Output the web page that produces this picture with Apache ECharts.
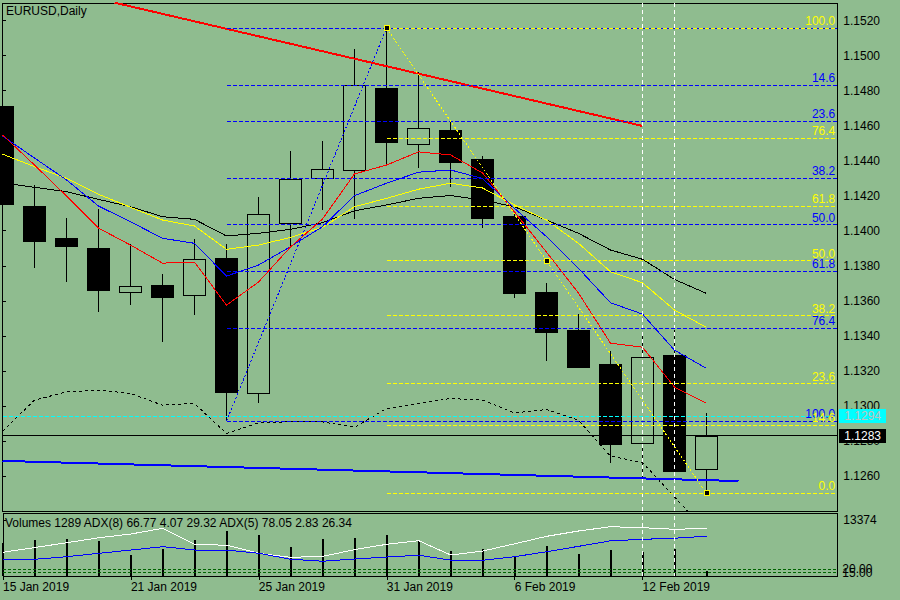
<!DOCTYPE html>
<html>
<head>
<meta charset="utf-8">
<title>EURUSD,Daily</title>
<script src="https://cdn.jsdelivr.net/npm/echarts@6/dist/echarts.min.js"></script>
<style>
html, body {margin:0; padding:0; background:#8fbc8f;}
#main {width:900px; height:600px;}
/* MT4 draws without antialiasing */
#main svg path, #main svg rect, #main svg line, #main svg polyline {shape-rendering: crispEdges;}
</style>
</head>
<body>
<div id="main"></div>
<script>
// daily bars, 15 Jan - 14 Feb 2019
var dates = ['15 Jan 2019','16 Jan 2019','17 Jan 2019','18 Jan 2019','21 Jan 2019','22 Jan 2019','23 Jan 2019',
    '24 Jan 2019','25 Jan 2019','28 Jan 2019','29 Jan 2019','30 Jan 2019','31 Jan 2019','1 Feb 2019',
    '4 Feb 2019','5 Feb 2019','6 Feb 2019','7 Feb 2019','8 Feb 2019','11 Feb 2019','12 Feb 2019',
    '13 Feb 2019','14 Feb 2019'];
var opens  = [1.14709,1.14141,1.13953,1.13901,1.13648,1.13690,1.13631,1.13844,1.13071,1.14042,1.14299,1.14343,
    1.14814,1.14494,1.14575,1.14404,1.14084,1.13650,1.13433,1.13238,1.12785,1.13290,1.12637];
var closes = [1.14149,1.13937,1.13909,1.13657,1.13682,1.13617,1.13833,1.13074,1.14094,1.14294,1.14351,1.14827,
    1.14503,1.14585,1.14389,1.14069,1.13640,1.13417,1.13217,1.12779,1.13277,1.12623,1.12825];
var lows   = [1.14149,1.13789,1.13709,1.13537,1.13577,1.13366,1.13520,1.12913,1.13017,1.13909,1.14118,1.14067,
    1.14375,1.14360,1.14251,1.14017,1.13617,1.13257,1.13215,1.12674,1.12585,1.12620,1.12501];
var highs  = [1.14709,1.14261,1.14073,1.14124,1.13924,1.13753,1.13953,1.13924,1.14191,1.14455,1.14513,1.15038,
    1.15157,1.14905,1.14627,1.14427,1.14101,1.13701,1.13522,1.13313,1.13411,1.13433,1.12957];

// moving averages
var maRed    = [1.14547,1.14375,1.14198,1.14015,1.13918,1.13815,1.13821,1.13575,1.13707,1.13907,1.14067,1.14324,
    1.14375,1.14450,1.14433,1.14330,1.14107,1.13878,1.13644,1.13358,1.13335,1.13107,1.13015];
var maBlue   = [1.14541,1.14415,1.14290,1.14141,1.14051,1.13957,1.13928,1.13741,1.13804,1.13909,1.14023,1.14200,
    1.14271,1.14334,1.14347,1.14298,1.14128,1.13966,1.13785,1.13589,1.13524,1.13318,1.13214];
var maYellow = [1.14437,1.14366,1.14299,1.14208,1.14134,1.14061,1.14027,1.13894,1.13918,1.13962,1.14019,1.14137,
    1.14185,1.14237,1.14271,1.14244,1.14147,1.14061,1.13928,1.13766,1.13703,1.13547,1.13448];
var maBlack  = [1.14273,1.14248,1.14223,1.14179,1.14137,1.14080,1.14065,1.13970,1.13985,1.14008,1.14046,1.14114,
    1.14147,1.14185,1.14201,1.14175,1.14137,1.14061,1.13985,1.13890,1.13837,1.13722,1.13642];
// lower envelope (black dotted)
var envLow   = [1.12855,1.13033,1.13080,1.13090,1.13071,1.13004,1.13014,1.12842,1.12903,1.12909,1.12909,1.12878,
    1.12985,1.13014,1.13042,1.13033,1.12960,1.12979,1.12918,1.12713,1.12677,1.12480,1.12284];

// volumes + ADX window
var volumes  = [7900,8597,8955,8430,5015,6567,8600,10794,9791,6973,8836,9027,9791,8286,6042,6400,4609,7164,
    5254,6209,5803,6376,1289];
var adxWhite = [43.9,50.7,57.6,64.6,70.0,78.1,55.3,53.9,42.4,36.7,38.1,47.7,55.3,60.4,40.0,45.7,56.0,66.7,
    74.3,80.4,79.0,76.7,78.05];
var adxBlue  = [33.9,33.9,37.6,42.4,47.1,51.9,47.1,47.1,42.4,33.9,31.1,34.3,37.1,39.7,32.6,32.4,37.6,44.7,
    52.4,60.3,62.4,64.0,66.77];
var adxLevels = [20, 15];

// drawn objects
var redTrend  = [[3.5, 1.15302], [20, 1.14598]];
var blueTrend = [[0, 1.12686], [23, 1.12571]];
var fibBlue   = [[7, 1.12913], [12, 1.15157]];   // low -> high
var fibYellow = [[12, 1.15157], [22, 1.12501]];  // high -> low
var fibYellowMid = [17, 1.13829];
var fibRatios = [0, 14.6, 23.6, 38.2, 50.0, 61.8, 76.4, 100.0];
var vLines = [20, 21];
var bidPrice = 1.1294;
var lastPrice = 1.1283;

// axis labels
var priceTicks = [1.1260,1.1280,1.1300,1.1320,1.1340,1.1360,1.1380,1.1400,1.1420,1.1440,1.1460,1.1480,1.1500,1.1520];
var dateTicks = [0, 4, 8, 12, 16, 20];
var volTicks = [13374];

var BG = '#8fbc8f';
var XMAX = 26.0875;
var FONT = 'Liberation Sans';

function pairs(arr) {
    var out = [];
    for (var i = 0; i < arr.length; i++) out.push([i, arr[i]]);
    return out;
}

var candles = [];
for (var i = 0; i < dates.length; i++) {
    candles.push([i, opens[i], closes[i], lows[i], highs[i]]);
}

// fib levels
function fibLines(anchor, color, startIdx, fromHigh) {
    var lo = Math.min(anchor[0][1], anchor[1][1]);
    var hi = Math.max(anchor[0][1], anchor[1][1]);
    var res = [];
    fibRatios.forEach(function (r) {
        var p = fromHigh ? hi - r / 100 * (hi - lo) : lo + r / 100 * (hi - lo);
        var showLabel = !(fromHigh && r === 0);
        res.push([
            {coord: [startIdx, p], label: {show: showLabel, formatter: r.toFixed(1)}},
            {coord: [XMAX, p]}
        ]);
    });
    return {
        silent: true,
        precision: 6,
        symbol: ['none', 'none'],
        lineStyle: {color: color, type: [4, 2], width: 1},
        label: {position: 'insideEndTop', color: color, fontSize: 12, fontFamily: FONT, distance: [2, 1]},
        data: res
    };
}

function maLine(name, arr, color) {
    return {
        name: name, type: 'line', data: pairs(arr), showSymbol: false, symbol: 'none',
        lineStyle: {color: color, width: 1}, z: 3, silent: true
    };
}

var myChart = echarts.init(document.getElementById('main'), null, {renderer: 'svg'});
var option = {
    animation: false,
    backgroundColor: BG,
    textStyle: {fontFamily: FONT},
    title: [
        {text: 'EURUSD,Daily', left: 6, top: 5, padding: 0,
            textStyle: {fontSize: 12, fontWeight: 'normal', color: '#000', fontFamily: FONT}},
        {text: 'Volumes 1289 ADX(8) 66.77 4.07 29.32 ADX(5) 78.05 2.83 26.34', left: 5, top: 517, padding: 0,
            textStyle: {fontSize: 12, fontWeight: 'normal', color: '#000', fontFamily: FONT}}
    ],
    grid: [
        {left: 2.5, right: 62.7, top: 3, height: 508, show: true, borderColor: '#000', borderWidth: 1},
        {left: 2.5, right: 62.7, top: 513, height: 63, show: true, borderColor: '#000', borderWidth: 1}
    ],
    xAxis: [
        {type: 'value', gridIndex: 0, min: 0, max: XMAX, show: false, splitLine: {show: false}},
        {type: 'value', gridIndex: 1, min: 0, max: XMAX,
            axisLine: {show: true, lineStyle: {color: '#000'}},
            axisTick: {show: true, length: 4, customValues: dateTicks, lineStyle: {color: '#000'}},
            axisLabel: {customValues: dateTicks, align: 'left', margin: 5, fontSize: 12, color: '#000',
                fontFamily: FONT,
                formatter: function (v) { return dates[Math.round(v)] || ''; }},
            splitLine: {show: false}}
    ],
    yAxis: [
        {type: 'value', gridIndex: 0, position: 'right', min: 1.1240, max: 1.1530, scale: true,
            axisLine: {show: true, lineStyle: {color: '#000'}},
            axisTick: {show: true, length: 3, customValues: priceTicks, lineStyle: {color: '#000'}},
            axisLabel: {customValues: priceTicks, margin: 6, fontSize: 12, color: '#000', fontFamily: FONT,
                formatter: function (v) { return v.toFixed(4); }},
            splitLine: {show: false}},
        {type: 'value', gridIndex: 1, position: 'right', min: 0, max: 15046,
            axisLine: {show: true, lineStyle: {color: '#000'}},
            axisTick: {show: true, length: 3, customValues: volTicks, lineStyle: {color: '#000'}},
            axisLabel: {customValues: volTicks, margin: 6, fontSize: 12, color: '#000', fontFamily: FONT,
                formatter: function (v) { return String(v); }},
            splitLine: {show: false}},
        {type: 'value', gridIndex: 1, position: 'right', min: 10, max: 100, show: false, splitLine: {show: false}}
    ],
    series: [
        {
            name: 'EURUSD', type: 'candlestick', data: candles, encode: {x: 0, y: [1, 2, 3, 4]},
            barWidth: 22, z: 1, silent: true,
            itemStyle: {color: BG, color0: '#000', borderColor: '#000', borderColor0: '#000', borderWidth: 1}
        },
        maLine('MA black', maBlack, '#000'),
        maLine('MA yellow', maYellow, '#ffff00'),
        maLine('MA blue', maBlue, '#0000ff'),
        maLine('MA red', maRed, '#ff0000'),
        {
            name: 'Envelope', type: 'line', data: pairs(envLow), symbol: 'none', silent: true, z: 3,
            lineStyle: {color: '#000', width: 1, type: [3, 3]}
        },
        {
            name: 'Red trend', type: 'line', data: redTrend, symbol: 'none', silent: true, z: 4,
            lineStyle: {color: '#ff0000', width: 2}
        },
        {
            name: 'Blue trend', type: 'line', data: blueTrend, symbol: 'none', silent: true, z: 4,
            lineStyle: {color: '#0000ff', width: 2},
            markLine: {
                silent: true, precision: 6, symbol: ['none', 'none'],
                data: [
                    {xAxis: vLines[0], lineStyle: {color: '#fff', type: [4, 3], width: 1}, label: {show: false}},
                    {xAxis: vLines[1], lineStyle: {color: '#fff', type: [4, 3], width: 1}, label: {show: false}},
                    {yAxis: bidPrice, lineStyle: {color: '#00ffff', type: [4, 2], width: 1},
                        label: {show: true, position: 'end', distance: 2, formatter: '1.1294', fontSize: 12,
                            fontFamily: FONT, color: '#c0c0c0', backgroundColor: '#00ffff',
                            padding: [1, 5, 1, 5], lineHeight: 12}},
                    {yAxis: lastPrice, lineStyle: {color: '#000', type: 'solid', width: 1},
                        label: {show: true, position: 'end', distance: 2, formatter: '1.1283', fontSize: 12,
                            fontFamily: FONT, color: '#fff', backgroundColor: '#000',
                            padding: [1, 5, 1, 5], lineHeight: 12}}
                ]
            }
        },
        {
            name: 'Fibo blue', type: 'line', data: fibBlue, symbol: 'none', silent: true, z: 5,
            lineStyle: {color: '#0000ff', width: 1, type: [2, 2]},
            markLine: fibLines(fibBlue, '#0000ff', fibBlue[0][0], true)
        },
        {
            name: 'Fibo yellow', type: 'line', data: [fibYellow[0], fibYellowMid, fibYellow[1]],
            symbol: 'rect', symbolSize: 5, showSymbol: true, silent: true, z: 6,
            itemStyle: {color: '#000', borderColor: '#ffff00', borderWidth: 1},
            lineStyle: {color: '#ffff00', width: 1, type: [2, 2]},
            markLine: fibLines(fibYellow, '#ffff00', fibYellow[0][0], false)
        },
        {
            name: 'Volumes', type: 'bar', xAxisIndex: 1, yAxisIndex: 1, data: pairs(volumes),
            barWidth: 2, silent: true, itemStyle: {color: '#000'},
            markLine: {
                silent: true, symbol: ['none', 'none'],
                lineStyle: {color: '#fff', type: [4, 3], width: 1}, label: {show: false},
                data: [{xAxis: vLines[0]}, {xAxis: vLines[1]}]
            }
        },
        {
            name: 'ADX(5)', type: 'line', xAxisIndex: 1, yAxisIndex: 2, data: pairs(adxWhite),
            symbol: 'none', silent: true, lineStyle: {color: '#fff', width: 1},
            markLine: {
                silent: true, symbol: ['none', 'none'],
                lineStyle: {color: '#006400', type: [3, 2], width: 1},
                label: {position: 'end', distance: 5, fontSize: 12, fontFamily: FONT, color: '#000'},
                data: [
                    {yAxis: adxLevels[0], label: {formatter: '20.00'}},
                    {yAxis: adxLevels[1], label: {formatter: '15.00'}}
                ]
            }
        },
        {
            name: 'ADX(8)', type: 'line', xAxisIndex: 1, yAxisIndex: 2, data: pairs(adxBlue),
            symbol: 'none', silent: true, lineStyle: {color: '#0000ff', width: 1}
        }
    ]
};
myChart.setOption(option);
</script>
</body>
</html>
